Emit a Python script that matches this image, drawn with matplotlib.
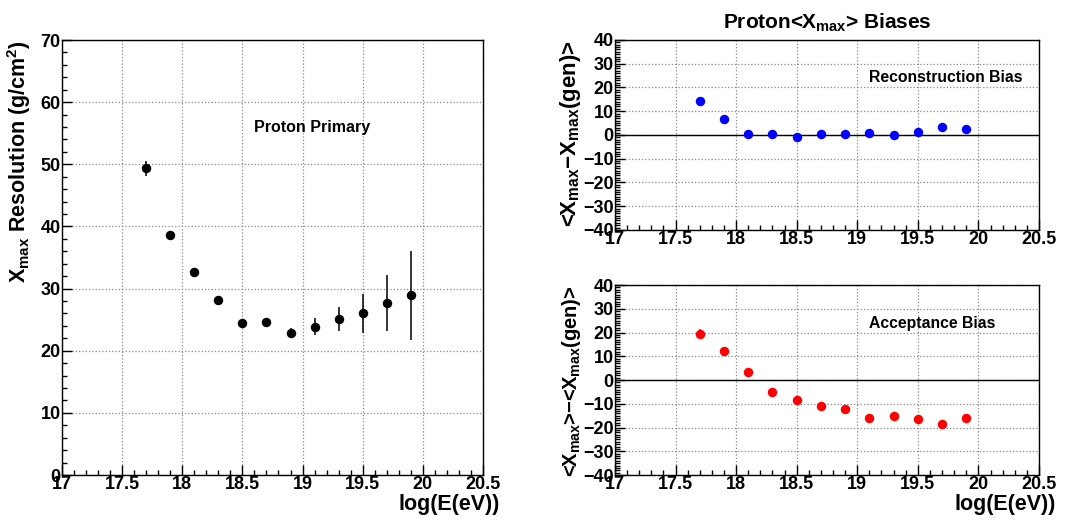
import matplotlib
matplotlib.use("Agg")
import matplotlib.pyplot as plt
from matplotlib.ticker import MultipleLocator

# log10(E/eV) bin centres
log_e = [17.7, 17.9, 18.1, 18.3, 18.5, 18.7, 18.9, 19.1, 19.3, 19.5, 19.7, 19.9]

# Xmax resolution (g/cm^2) and errors
resolution = [49.4, 38.7, 32.6, 28.1, 24.5, 24.7, 22.8, 23.9, 25.1, 26.0, 27.7, 28.9]
resolution_err = [1.2, 0.4, 0.4, 0.4, 0.4, 0.4, 0.8, 1.4, 2.0, 3.2, 4.5, 7.2]

# reconstruction bias <Xmax - Xmax(gen)>
reco_bias = [14.3, 6.7, 0.6, 0.3, -0.7, 0.3, 0.3, 1.0, -0.2, 1.1, 3.5, 2.4]
reco_err = [0.8, 0.5, 0.4, 0.3, 0.3, 0.3, 0.3, 0.4, 0.4, 0.5, 0.6, 0.8]

# acceptance bias <Xmax> - <Xmax(gen)>
acc_bias = [19.4, 12.4, 3.5, -5.1, -8.4, -11.0, -12.4, -15.8, -15.2, -16.6, -18.5, -15.8]
acc_err = [2.0, 0.8, 0.6, 0.5, 0.4, 0.4, 0.4, 0.4, 0.4, 0.4, 0.4, 0.5]

plt.rcParams["font.family"] = ["Liberation Sans", "DejaVu Sans"]
plt.rcParams["font.weight"] = "bold"
plt.rcParams["mathtext.fontset"] = "custom"
plt.rcParams["mathtext.rm"] = "Liberation Sans:bold"
plt.rcParams["mathtext.it"] = "Liberation Sans:italic:bold"
plt.rcParams["mathtext.default"] = "rm"


def style_axes(ax, ymin, ymax, yminor):
    ax.set_xlim(17, 20.5)
    ax.set_ylim(ymin, ymax)
    ax.xaxis.set_major_locator(MultipleLocator(0.5))
    ax.xaxis.set_minor_locator(MultipleLocator(0.1))
    ax.yaxis.set_major_locator(MultipleLocator(10))
    ax.yaxis.set_minor_locator(MultipleLocator(yminor))
    ax.tick_params(which="both", direction="in", top=False, right=False,
                   labelsize=13, width=1)
    ax.tick_params(which="major", length=7, pad=1)
    ax.tick_params(which="minor", length=3.5)
    ax.grid(True, which="major", linestyle=":", color="#888888", linewidth=0.9)
    ax.xaxis.set_major_formatter(plt.FuncFormatter(lambda v, p: f"{v:g}"))
    for lab in ax.get_xticklabels() + ax.get_yticklabels():
        lab.set_fontweight("bold")
    for s in ax.spines.values():
        s.set_linewidth(1.0)


def set_xtitle(ax, height_px):
    # title sits ~19 px under the frame, right end a bit past the axis
    ax.set_xlabel("log(E(eV))", fontsize=15.5, fontweight="bold")
    ax.xaxis.set_label_coords(1.04, -19.0 / height_px)
    ax.xaxis.label.set_ha("right")
    ax.xaxis.label.set_va("top")


fig = plt.figure(figsize=(10.78, 5.2), dpi=100)

# (1) resolution
ax1 = fig.add_axes([0.0575, 0.0865, 0.3905, 0.8365])
style_axes(ax1, 0, 70, 2)
ax1.errorbar(log_e, resolution, yerr=resolution_err, fmt="o", color="black",
             markersize=5.8, elinewidth=1.1, capsize=0)
ax1.text(18.6, 55.9, "Proton Primary", fontsize=11.5, fontweight="bold", va="center")
ax1.set_ylabel(r"X$_{max}$ Resolution (g/cm$^{2}$)", fontsize=15.5, fontweight="bold", loc="top")
ax1.yaxis.set_label_coords(-0.068, 1.0)
set_xtitle(ax1, 435)

# (2) reconstruction bias
ax2 = fig.add_axes([0.5705, 0.5577, 0.3933, 0.3654])
style_axes(ax2, -40, 40, 1)
ax2.axhline(0, color="black", linewidth=1)
ax2.errorbar(log_e, reco_bias, yerr=reco_err, fmt="o", color="blue",
             markersize=5.8, elinewidth=1.1, capsize=0)
ax2.text(19.1, 24, "Reconstruction Bias", fontsize=11.3, fontweight="bold", va="center")
ax2.set_ylabel(r"<X$_{max}$$-$X$_{max}$(gen)>", fontsize=16, fontweight="bold", loc="top")
ax2.yaxis.set_label_coords(-0.075, 1.0)
ax2.set_title(r"Proton<X$_{max}$> Biases", fontsize=15, fontweight="bold", pad=8)

# (3) acceptance bias
ax3 = fig.add_axes([0.5705, 0.0865, 0.3933, 0.3654])
style_axes(ax3, -40, 40, 1)
ax3.axhline(0, color="black", linewidth=1)
ax3.errorbar(log_e, acc_bias, yerr=acc_err, fmt="o", color="red",
             markersize=5.8, elinewidth=1.1, capsize=0)
ax3.text(19.1, 24, "Acceptance Bias", fontsize=11.3, fontweight="bold", va="center")
ax3.set_ylabel(r"<X$_{max}$>$-$<X$_{max}$(gen)>", fontsize=14.5, fontweight="bold", loc="top")
ax3.yaxis.set_label_coords(-0.075, 1.0)
set_xtitle(ax3, 190)

fig.savefig("out.png", dpi=100)
plt.close(fig)
